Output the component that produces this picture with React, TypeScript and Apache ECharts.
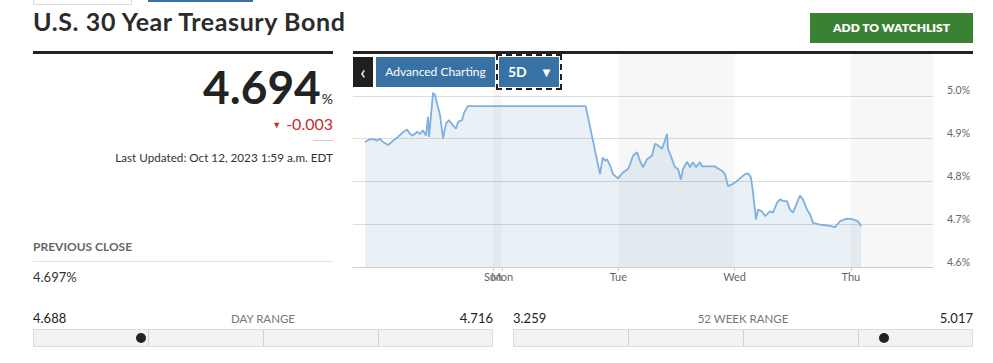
import React, { useEffect, useRef } from "react";
import * as echarts from "echarts";

// Hours measured from Monday 00:00 (negative = Friday session)
const hoursFromMon = [
  -28.27, -27.24, -26.21, -25.79, -25.18, -24.56, -23.52, -22.49, -21.46, -20.64,
  -19.6, -18.98, -18.37, -17.54, -16.92, -16.3, -15.68, -15.27, -15.06, -14.65,
  -14.24, -13.83, -13.41, -12.79, -12.38, -12.17, -11.56, -10.94, -10.11, -9.49,
  -9.08, -8.25, -7.84, -7.02, 17.27, 20.22, 20.78, 21.25, 21.67, 22.29,
  22.91, 23.94, 24.97, 26.0, 26.41, 27.03, 27.86, 28.48, 29.1, 29.92,
  30.95, 31.57, 32.19, 33.02, 33.64, 34.05, 34.26, 35.08, 35.7, 36.32,
  36.94, 37.35, 38.18, 38.8, 39.41, 40.03, 40.86, 41.27, 43.95, 44.57,
  45.4, 46.02, 46.64, 47.46, 48.49, 49.11, 50.14, 50.76, 51.38, 51.8,
  52.41, 52.83, 53.65, 54.27, 55.3, 55.92, 56.75, 57.37, 57.99, 58.81,
  59.43, 60.05, 60.87, 61.49, 62.11, 62.94, 63.56, 64.18, 65.62, 67.07,
  68.1, 68.72, 69.75, 71.19, 72.22, 73.26, 73.67, 74.08,
];
const yieldPct = [
  4.892, 4.899, 4.898, 4.895, 4.9, 4.892, 4.885, 4.895, 4.904, 4.913,
  4.921, 4.911, 4.907, 4.916, 4.911, 4.919, 4.907, 4.951, 4.904, 4.955,
  5.007, 5.002, 4.982, 4.955, 4.919, 4.9, 4.935, 4.943, 4.931, 4.923,
  4.939, 4.943, 4.96, 4.976, 4.976, 4.817, 4.856, 4.848, 4.852, 4.837,
  4.817, 4.807, 4.821, 4.829, 4.84, 4.86, 4.868, 4.848, 4.833, 4.852,
  4.86, 4.888, 4.884, 4.876, 4.896, 4.911, 4.876, 4.852, 4.833, 4.829,
  4.804, 4.829, 4.846, 4.833, 4.845, 4.833, 4.845, 4.835, 4.835, 4.83,
  4.825, 4.817, 4.789, 4.793, 4.801, 4.807, 4.817, 4.819, 4.809, 4.774,
  4.711, 4.734, 4.73, 4.719, 4.73, 4.727, 4.75, 4.758, 4.754, 4.754,
  4.734, 4.727, 4.75, 4.767, 4.758, 4.734, 4.723, 4.703, 4.699, 4.697,
  4.695, 4.693, 4.707, 4.713, 4.712, 4.708, 4.704, 4.695,
];

const X_MIN = -30.75;
const X_MAX = 88.94;
const dayTickHours = [-1.86, 0, 24, 48, 72];
const dayTickLabels = ["Sun", "Mon", "Tue", "Wed", "Thu"];
// "Mon" sits right on top of "Sun"; it is drawn by a second, overlaid axis
const mainLabelHours = [-1.86, 24, 48, 72];
const overlayLabelHours = [0];
const shadedDays: [number, number][] = [
  [-1.86, 0],
  [24, 48],
  [72, X_MAX],
];
const Y_MIN = 4.6;
const Y_MAX = 5.1;

const FONT = "Lato, 'Open Sans', sans-serif";

const dayLabel = (v: number) => {
  let best = 0;
  dayTickHours.forEach((h, i) => {
    if (Math.abs(h - v) < Math.abs(dayTickHours[best] - v)) best = i;
  });
  return dayTickLabels[best];
};

function Chart() {
  const ref = useRef<HTMLDivElement>(null);
  useEffect(() => {
    if (!ref.current) return;
    const chart = echarts.init(ref.current, undefined, { renderer: "svg" });
    const labelStyle = {
      hideOverlap: false,
      formatter: dayLabel,
      color: "#666666",
      fontSize: 11,
      fontFamily: FONT,
      margin: 4,
    };
    chart.setOption({
      animation: false,
      grid: { left: 353, right: 60, top: 53, bottom: 96 },
      xAxis: [
        {
          type: "value",
          min: X_MIN,
          max: X_MAX,
          axisLine: { show: true, lineStyle: { color: "#cccccc", width: 1 } },
          axisTick: {
            show: true,
            customValues: dayTickHours,
            length: 4,
            lineStyle: { color: "#cccccc" },
          },
          axisLabel: { ...labelStyle, customValues: mainLabelHours },
          splitLine: { show: false },
        },
        {
          type: "value",
          min: X_MIN,
          max: X_MAX,
          position: "bottom",
          offset: 0,
          axisLine: { show: false },
          axisTick: { show: false },
          axisLabel: { ...labelStyle, customValues: overlayLabelHours },
          splitLine: { show: false },
        },
      ],
      yAxis: {
        type: "value",
        position: "right",
        min: Y_MIN,
        max: Y_MAX,
        interval: 0.1,
        axisLine: { show: false },
        axisTick: { show: false },
        axisLabel: {
          showMaxLabel: false,
          formatter: (v: number) => v.toFixed(1) + "%",
          margin: 14,
          verticalAlign: "bottom",
          color: "#666666",
          fontSize: 10.5,
          fontFamily: FONT,
        },
        splitLine: {
          show: true,
          lineStyle: {
            color: ["#d9d9d9", "#dedede", "#dedede", "#dedede", "#dedede", "rgba(0,0,0,0)"],
            width: 1,
          },
        },
      },
      series: [
        {
          type: "line",
          data: [[X_MIN, Y_MIN]],
          symbol: "none",
          lineStyle: { width: 0, opacity: 0 },
          z: 1,
          silent: true,
          markArea: {
            silent: true,
            itemStyle: { color: "rgba(0,0,0,0.032)" },
            data: shadedDays.map(([a, b]) => [{ xAxis: a }, { xAxis: b }]),
          },
        },
        {
          type: "line",
          data: hoursFromMon.map((h, i) => [h, yieldPct[i]]),
          symbol: "none",
          showSymbol: false,
          lineStyle: { color: "#7eb0e2", width: 1.8 },
          areaStyle: { color: "rgba(70,130,180,0.17)", origin: "start" },
          z: 3,
        },
      ],
    });
    return () => chart.dispose();
  }, []);
  return (
    <div
      ref={ref}
      style={{ position: "absolute", left: 0, top: 0, width: 993, height: 363 }}
    />
  );
}

const abs = (s: React.CSSProperties): React.CSSProperties => ({
  position: "absolute",
  fontFamily: FONT,
  whiteSpace: "nowrap",
  ...s,
});

function RangeBar({
  left,
  width,
  low,
  high,
  title,
  dot,
}: {
  left: number;
  width: number;
  low: string;
  high: string;
  title: string;
  dot: number;
}) {
  return (
    <>
      <div style={abs({ left, top: 312, fontSize: 13, lineHeight: "13px", color: "#222" })}>{low}</div>
      <div style={abs({ left, width, top: 313, fontSize: 11.5, lineHeight: "11px", color: "#777", textAlign: "center" })}>{title}</div>
      <div style={abs({ left, width, top: 312, fontSize: 13, lineHeight: "13px", color: "#222", textAlign: "right" })}>{high}</div>
      <div
        style={abs({
          left,
          top: 329,
          width: width - 2,
          height: 16,
          background: "#f2f2f2",
          border: "1px solid #dddddd",
        })}
      />
      {[1, 2, 3].map((k) => (
        <div
          key={k}
          style={abs({ left: left + Math.round((width * k) / 4), top: 330, width: 1, height: 16, background: "#cfcfcf" })}
        />
      ))}
      <div
        style={abs({ left: dot - 5, top: 333, width: 10, height: 10, borderRadius: 5, background: "#222" })}
      />
    </>
  );
}

export default function App() {
  return (
    <div
      style={{
        position: "absolute",
        left: 0,
        top: 0,
        width: 993,
        height: 363,
        overflow: "hidden",
        background: "#fff",
        fontFamily: FONT,
      }}
    >
      <Chart />
      {/* top stubs */}
      <div style={abs({ left: 33, top: -10, width: 97, height: 13, border: "1px solid #dddddd", background: "#fff" })} />
      <div style={abs({ left: 148, top: 0, width: 105, height: 2, background: "#3872a5" })} />

      {/* title */}
      <div
        style={abs({
          left: 33,
          top: 9,
          fontSize: 25,
          lineHeight: "25px",
          fontWeight: 700,
          letterSpacing: 0.6,
          color: "#2b2b2b",
        })}
      >
        U.S. 30 Year Treasury Bond
      </div>
      <div style={abs({ left: 33, top: 51, width: 300, height: 3, background: "#222" })} />
      <div style={abs({ left: 353, top: 51, width: 620, height: 3, background: "#222" })} />

      {/* watchlist button */}
      <div
        style={abs({
          left: 810,
          top: 13,
          width: 163,
          height: 30,
          background: "#3b8133",
          color: "#fff",
          fontSize: 12,
          fontWeight: 800,
          lineHeight: "30px",
          textAlign: "center",
        })}
      >
        ADD TO WATCHLIST
      </div>

      {/* price block */}
      <div
        style={abs({
          left: 0,
          width: 333,
          top: 64,
          textAlign: "right",
          fontSize: 46,
          lineHeight: "46px",
          fontWeight: 700,
          color: "#222",
        })}
      >
        4.694<span style={{ fontSize: 14, fontWeight: 400, marginLeft: 1 }}>%</span>
      </div>
      <div style={abs({ left: 0, width: 333, top: 116, textAlign: "right", fontSize: 16, lineHeight: "16px", color: "#c62b30" })}>
        <span style={{ fontSize: 9, verticalAlign: 2, marginRight: 5 }}>▼</span>-0.003
      </div>
      <div style={abs({ left: 313, top: 140, width: 20, height: 1, background: "#cccccc" })} />
      <div style={abs({ left: 0, width: 333, top: 151, textAlign: "right", fontSize: 11.7, lineHeight: "12px", color: "#333" })}>
        Last Updated: Oct 12, 2023 1:59 a.m. EDT
      </div>

      <div style={abs({ left: 33, top: 241, fontSize: 12, lineHeight: "12px", fontWeight: 700, color: "#666" })}>
        PREVIOUS CLOSE
      </div>
      <div style={abs({ left: 33, top: 261, width: 300, height: 1, background: "#e3e3e3" })} />
      <div style={abs({ left: 33, top: 271, fontSize: 13, lineHeight: "13px", color: "#333" })}>4.697%</div>

      {/* chart controls */}
      <div
        style={abs({
          left: 353,
          top: 57,
          width: 20,
          height: 30,
          background: "#1f1f1f",
          color: "#fff",
          fontSize: 20,
          lineHeight: "28px",
          textAlign: "center",
        })}
      >
        ‹
      </div>
      <div
        style={abs({
          left: 376,
          top: 57,
          width: 119,
          height: 30,
          background: "#3872a5",
          color: "#fff",
          fontSize: 12,
          lineHeight: "30px",
          textAlign: "center",
        })}
      >
        Advanced Charting
      </div>
      <div
        style={abs({
          left: 496,
          top: 54,
          width: 62,
          height: 32,
          border: "2px dashed #222",
          background: "#fff",
        })}
      />
      <div style={abs({ left: 499, top: 57, width: 60, height: 30, background: "#3872a5" })} />
      <div style={abs({ left: 508, top: 57, fontSize: 14, fontWeight: 700, lineHeight: "30px", color: "#fff" })}>5D</div>
      <div style={abs({ left: 540, top: 57, fontSize: 13, lineHeight: "30px", color: "#fff" })}>▼</div>

      {/* ranges */}
      <RangeBar left={33} width={460} low="4.688" high="4.716" title="DAY RANGE" dot={141} />
      <RangeBar left={513} width={460} low="3.259" high="5.017" title="52 WEEK RANGE" dot={884} />
    </div>
  );
}
